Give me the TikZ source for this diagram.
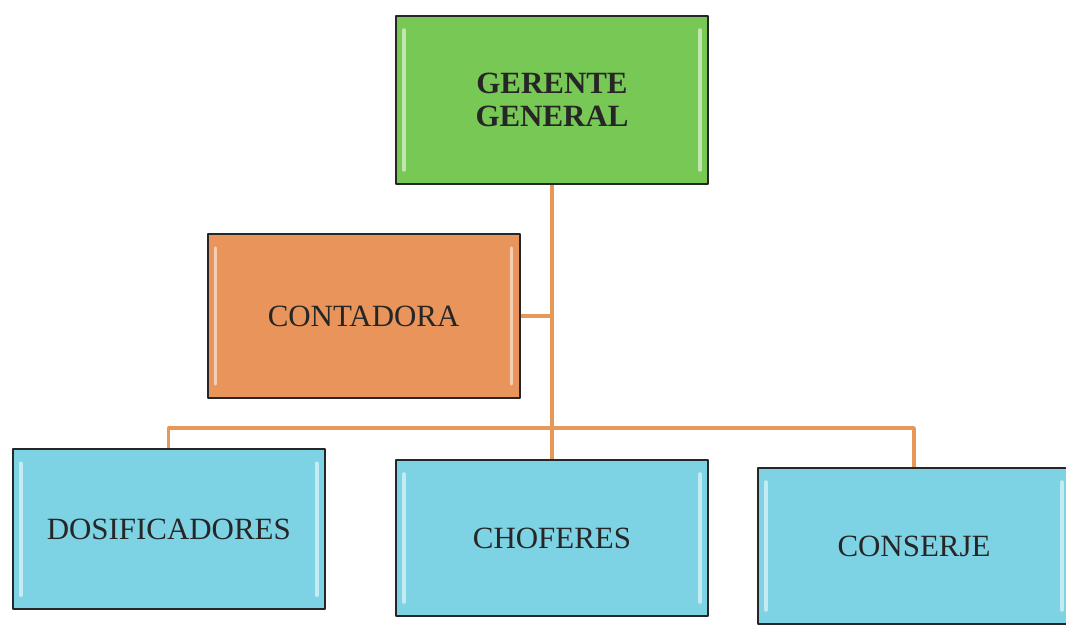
\documentclass[tikz,border=0pt]{standalone}
\usepackage{fontspec}
\setmainfont{Liberation Serif}
\usepackage{tikz}
\usetikzlibrary{calc}
\definecolor{verde}{RGB}{120,200,85}
\definecolor{naranja}{RGB}{232,148,90}
\definecolor{celeste}{RGB}{125,210,228}
\definecolor{linea}{RGB}{230,152,88}

\begin{document}
\begin{tikzpicture}[line cap=round,line join=round,x=1.0cm,y=1.0cm,
    caja/.style={draw=black!85,line width=1.4pt,minimum width=7.8cm,minimum height=4cm,
      align=center,font=\fontsize{22}{24}\selectfont,text=black!85,
      path picture={
        \draw[white,opacity=0.55,line width=2.5pt]
          ($(path picture bounding box.south west)+(0.2,0.35)$) -- ($(path picture bounding box.north west)+(0.2,-0.35)$);
        \draw[white,opacity=0.55,line width=2.5pt]
          ($(path picture bounding box.south east)+(-0.2,0.35)$) -- ($(path picture bounding box.north east)+(-0.2,-0.35)$);
      }},
    rama/.style={draw=linea,line width=2.4pt,line cap=butt}]
      \useasboundingbox (0,0) rectangle (26.65,15.65);
      % cajas
      \node[caja,fill=verde,minimum height=4.2cm,font=\fontsize{22}{24}\selectfont\bfseries] (gerente) at (13.8,13.15) {GERENTE\\GENERAL};
      \node[caja,fill=naranja,minimum height=4.1cm] (contadora) at (9.09,7.75) {CONTADORA};
      \node[caja,fill=celeste] (dosif) at (4.22,2.42) {DOSIFICADORES};
      \node[caja,fill=celeste,minimum height=3.9cm] (choferes) at (13.8,2.2) {CHOFERES};
      \node[caja,fill=celeste,minimum height=3.9cm] (conserje) at (22.85,2.0) {CONSERJE};
      \coordinate (bus) at (0,4.95);
      % lineas
      \draw[rama] (gerente.south) -- (choferes.north);
      \draw[rama] (contadora.east) -- (contadora.east -| gerente.south);
      \draw[rama] (dosif.north) -- (dosif.north |- bus) -- (conserje.north |- bus) -- (conserje.north);
\end{tikzpicture}
\end{document}
